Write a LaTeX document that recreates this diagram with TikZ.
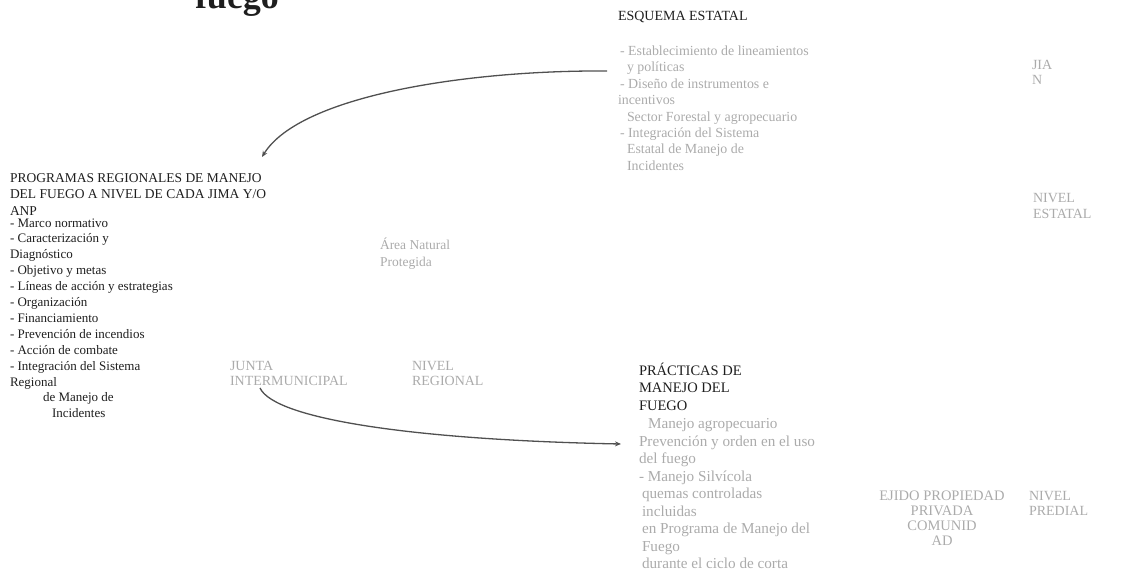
\documentclass[tikz,border=0pt]{standalone}
\usepackage{fontspec}
\setmainfont{Liberation Serif}
\usetikzlibrary{arrows.meta}
\definecolor{txtgray}{HTML}{ABABAB}
\definecolor{txtdark}{HTML}{1E1E1E}
\definecolor{linegray}{HTML}{505050}
\begin{document}
\begin{tikzpicture}[x=1pt,y=-1pt,
  every node/.style={inner sep=0pt,outer sep=0pt},
  darktext/.style={anchor=base west,align=left,text=txtdark},
  graytext/.style={anchor=base west,align=left,text=txtgray},
  conn/.style={draw=linegray,line width=1.3pt,-{Stealth[length=6pt,width=5pt]}}]
\useasboundingbox (0,0) rectangle (1127,575);
% (multi-line nodes are placed by the baseline of their last line)

% title fragment
\node[darktext,font=\fontsize{36}{40}\selectfont\bfseries] (title) at (195,9) {fuego};

% state level
\node[darktext,font=\fontsize{14}{16}\selectfont] (esqhead) at (618,21) {ESQUEMA ESTATAL};
\node[graytext,font=\fontsize{13.9}{16.4}\selectfont] (esqlist) at (620,170.3)
  {- Establecimiento de lineamientos\\
   \hspace*{7pt}y políticas\\
   - Diseño de instrumentos e\\
   \hspace*{-2pt}incentivos\\
   \hspace*{7pt}Sector Forestal y agropecuario\\
   - Integración del Sistema\\
   \hspace*{7pt}Estatal de Manejo de\\
   \hspace*{7pt}Incidentes};
\node[graytext,font=\fontsize{14}{15.5}\selectfont] (jian) at (1032,85) {JIA\\N};
\node[graytext,font=\fontsize{14}{16}\selectfont] (nivest) at (1033,218) {NIVEL\\ESTATAL};

% regional level
\node[darktext,font=\fontsize{13.5}{16.5}\selectfont] (proghead) at (10,215)
  {PROGRAMAS REGIONALES DE MANEJO\\
   DEL FUEGO A NIVEL DE CADA JIMA Y/O\\
   ANP};
\node[darktext,font=\fontsize{13}{15.9}\selectfont] (proglist) at (10,417.8)
  {- Marco normativo\\
   - Caracterización y\\
   Diagnóstico\\
   - Objetivo y metas\\
   - Líneas de acción y estrategias\\
   - Organización\\
   - Financiamiento\\
   - Prevención de incendios\\
   - Acción de combate\\
   - Integración del Sistema\\
   Regional\\
   \hspace*{33pt}de Manejo de\\
   \hspace*{42pt}Incidentes};
\node[graytext,font=\fontsize{13.5}{17}\selectfont] (anp) at (380,266) {Área Natural\\Protegida};
\node[graytext,font=\fontsize{14}{15}\selectfont] (junta) at (230,385) {JUNTA\\INTERMUNICIPAL};
\node[graytext,font=\fontsize{14}{15}\selectfont] (nivreg) at (412,385) {NIVEL\\REGIONAL};

% property level
\node[darktext,font=\fontsize{14.5}{17.5}\selectfont] (prachead) at (639,410)
  {PRÁCTICAS DE\\MANEJO DEL\\FUEGO};
\node[graytext,font=\fontsize{15.2}{17.5}\selectfont] (praclist) at (639,568.5)
  {\hspace*{9pt}Manejo agropecuario\\
   Prevención y orden en el uso\\
   del fuego\\
   - Manejo Silvícola\\
   \hspace*{3pt}quemas controladas\\
   \hspace*{3pt}incluidas\\
   \hspace*{3pt}en Programa de Manejo del\\
   \hspace*{3pt}Fuego\\
   \hspace*{3pt}durante el ciclo de corta};
\node[anchor=base,align=center,text=txtgray,font=\fontsize{14.5}{15}\selectfont] (ejido) at (942,545)
  {EJIDO PROPIEDAD\\PRIVADA\\COMUNID\\AD};
\node[graytext,font=\fontsize{14}{15}\selectfont] (nivpre) at (1029,515) {NIVEL\\PREDIAL};

% connectors
\coordinate (esqtail) at (607,71);
\coordinate (progtip) at (262,157);
\coordinate (juntatail) at (260,388);
\coordinate (practip) at (621,444);
\draw[conn] (esqtail) .. controls (470,70) and (300,95) .. (progtip);
\draw[conn] (juntatail) .. controls (275,420) and (420,440) .. (practip);
\end{tikzpicture}
\end{document}
